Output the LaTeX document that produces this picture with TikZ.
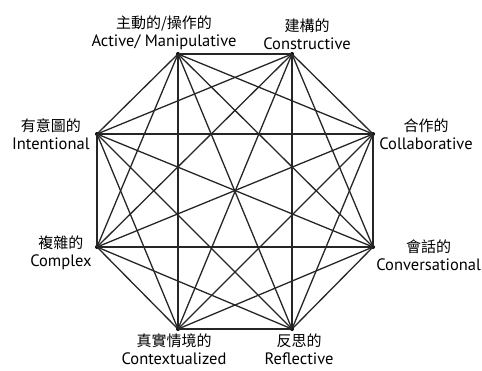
\documentclass[tikz,border=0pt]{standalone}
\usepackage{fontspec}
\setmainfont{PT Sans}
\newfontfamily\cjkfont{Noto Sans CJK TC}
\usetikzlibrary{positioning}
\newcommand{\zh}[1]{{\cjkfont\fontsize{15}{18}\selectfont #1}}
\tikzset{
  vertex/.style={circle, fill=black, inner sep=0pt, minimum size=4pt},
  lbl/.style={align=center, inner sep=1pt, font=\fontsize{16.5}{18}\selectfont},
  edge/.style={line width=1.3pt, black!85}
}

\begin{document}
\begin{tikzpicture}[x=1pt, y=-1pt]
\useasboundingbox (0,0) rectangle (482,370);
% the eight corners of the octagon
\node[vertex] (act) at (178,54) {};
\node[vertex] (con) at (292,54) {};
\node[vertex] (col) at (373,134) {};
\node[vertex] (cnv) at (373,247) {};
\node[vertex] (ref) at (292,329) {};
\node[vertex] (ctx) at (178,329) {};
\node[vertex] (cpx) at (97,247) {};
\node[vertex] (int) at (97,134) {};

% every corner joined to every other one
\foreach \a [count=\i] in {act,con,col,cnv,ref,ctx,cpx,int}
  \foreach \b [count=\j] in {act,con,col,cnv,ref,ctx,cpx,int}
    {\ifnum\i<\j \draw[edge] (\a.center) -- (\b.center); \fi}

\node[lbl, above=1pt of act, xshift=-14pt] (lact) {\zh{主動的/操作的}\\Active/ Manipulative};
\node[lbl, above=1pt of con, xshift=15pt] (lcon) {\zh{建構的}\\Constructive};
\node[lbl, right=3pt of col] (lcol) {\zh{合作的}\\Collaborative};
\node[lbl, right=0pt of cnv, yshift=-8pt] (lcnv) {\zh{會話的}\\Conversational};
\node[lbl, below=1pt of ref, xshift=7pt] (lref) {\zh{反思的}\\Reflective};
\node[lbl, below=1pt of ctx, xshift=-4pt] (lctx) {\zh{真實情境的}\\Contextualized};
\node[lbl, left=2pt of cpx, yshift=-6pt] (lcpx) {\zh{複雜的}\\Complex};
\node[lbl, left=4pt of int] (lint) {\zh{有意圖的}\\Intentional};
\end{tikzpicture}
\end{document}
